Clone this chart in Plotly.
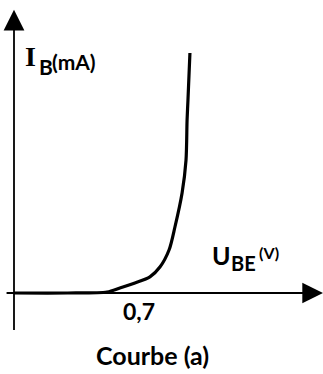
import plotly.graph_objects as go

# Data
u_be = [0.0, 0.30, 0.521, 0.593, 0.677, 0.761, 0.817, 0.868, 0.901, 0.941, 0.963, 0.969, 0.974, 0.985]
i_b = [0.0, 0.0, 0.04, 0.21, 0.42, 0.67, 1.08, 1.79, 2.75, 4.17, 5.54, 7.21, 8.04, 10.0]
tick_value = 0.7
tick_label = "0,7"
x_range = [-0.0784, 1.730]
y_range = [-3.375, 12.208]
x_axis_end = 1.73
x_axis_start = -0.05
y_axis_top = 11.8
y_axis_bottom = -1.6

FONT = "Lato"

fig = go.Figure()
fig.add_trace(go.Scatter(x=u_be, y=i_b, mode="lines",
                         line=dict(color="black", width=3.2, shape="spline", smoothing=0.8),
                         hoverinfo="skip"))

ann = []
# y axis with arrow
ann.append(dict(x=0, y=y_axis_top, ax=0, ay=y_axis_bottom, xref="x", yref="y", axref="x", ayref="y",
                showarrow=True, arrowhead=2, arrowsize=2.3, arrowwidth=1.8, arrowcolor="black", text=""))
# x axis with arrow
ann.append(dict(x=x_axis_end, y=0, ax=x_axis_start, ay=0, xref="x", yref="y", axref="x", ayref="y",
                showarrow=True, arrowhead=2, arrowsize=2.3, arrowwidth=1.8, arrowcolor="black", text=""))


def label(text, x, y, size, family=FONT, xanchor="left"):
    ann.append(dict(x=x, y=y, xref="x", yref="y", showarrow=False, xanchor=xanchor, yanchor="middle",
                    text="<b>" + text + "</b>", font=dict(family=family, size=size, color="black")))


# I_B (mA)
label("I", 0.05, 9.85, 28, family="Liberation Serif")
label("B", 0.128, 9.42, 21)
label("(mA)", 0.200, 9.65, 21)
# U_BE (V)
label("U", 1.100, 1.60, 25)
label("BE", 1.205, 1.27, 20)
label("(V)", 1.36, 1.667, 16)
# tick label
label(tick_label, tick_value, -0.75, 23, xanchor="center")
# caption
label("Courbe (a)", 0.775, -2.58, 25, xanchor="center")

fig.update_layout(
    width=323, height=374,
    margin=dict(l=0, r=0, t=0, b=0),
    paper_bgcolor="white", plot_bgcolor="white",
    showlegend=False,
    xaxis=dict(range=x_range, visible=False, fixedrange=True),
    yaxis=dict(range=y_range, visible=False, fixedrange=True),
    annotations=ann,
)

fig.write_html("out.html", config={"displayModeBar": False},
               post_script="document.body.style.margin='0px';")
